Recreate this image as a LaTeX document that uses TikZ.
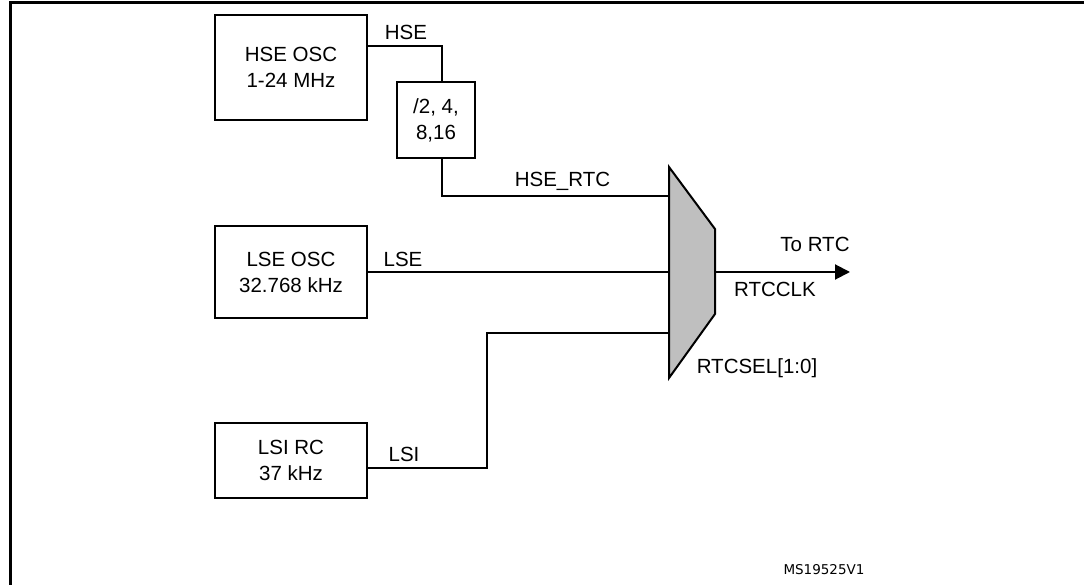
\documentclass[tikz,border=0pt]{standalone}
\usepackage{fontspec}
\setmainfont{Liberation Sans}
\newfontfamily\codefont{DejaVu Sans}
\usetikzlibrary{arrows.meta}
\definecolor{muxgray}{HTML}{BFBFBF}
\tikzset{
  blk/.style={draw, line width=2pt, align=center, inner sep=0pt,
    font=\fontsize{20.5}{26}\selectfont},
  wire/.style={line width=2pt},
  lbl/.style={anchor=base, inner sep=0pt, font=\fontsize{20.5}{26}\selectfont},
}
\begin{document}
\begin{tikzpicture}[x=1pt, y=-1pt]
\useasboundingbox (0,0) rectangle (1084,585);
% frame
\draw[line width=3pt] (10,585) -- (10,3) -- (1084,3);

% clock sources
\node[blk, minimum width=152, minimum height=105] (hseosc) at (291,67.5) {HSE OSC\\1-24 MHz};
\node[blk, minimum width=78, minimum height=76] (hsediv) at (436,120) {/2, 4,\\8,16};
\node[blk, minimum width=152, minimum height=91] (lseosc) at (291,272) {LSE OSC\\32.768 kHz};
\node[blk, minimum width=152, minimum height=75] (lsirc) at (291,460.5) {LSI RC\\37 kHz};

% mux
\coordinate (muxtl) at (669,167);
\coordinate (muxtr) at (715,229);
\coordinate (muxbr) at (715,314);
\coordinate (muxbl) at (669,378);
\draw[wire, fill=muxgray] (muxtl) -- (muxtr) -- (muxbr) -- (muxbl) -- cycle;
\coordinate (hsertcin) at (669,196);
\coordinate (lsein) at (669,272);
\coordinate (lsiin) at (669,333);
\coordinate (muxout) at (715,272);
\coordinate (rtcout) at (850,272);
\coordinate (lsibend) at (487,468);

% wires
\draw[wire] ([yshift=21.5]hseosc.east) -| ([xshift=6]hsediv.north);
\draw[wire] ([xshift=6]hsediv.south) |- (hsertcin);
\draw[wire] (lseosc.east) -- (lsein);
\draw[wire] ([yshift=-7.5]lsirc.east) -- (lsibend) |- (lsiin);
\draw[wire, -{Triangle[length=15, width=15]}] (muxout) -- (rtcout);

% labels
\node[lbl] (hselbl) at (406,40) {HSE};
\node[lbl] (hsertclbl) at (562.5,187) {HSE\_RTC};
\node[lbl] (lselbl) at (403,267) {LSE};
\node[lbl] (lsilbl) at (404,461) {LSI};
\node[lbl] (tortclbl) at (815,252) {To RTC};
\node[lbl] (rtcclklbl) at (775,297) {RTCCLK};
\node[lbl] (rtcsellbl) at (757,373) {RTCSEL[1:0]};
\node[anchor=base, inner sep=0pt, font=\codefont\fontsize{13.5}{16}\selectfont] (reflbl) at (824,574) {MS19525V1};
\end{tikzpicture}
\end{document}
